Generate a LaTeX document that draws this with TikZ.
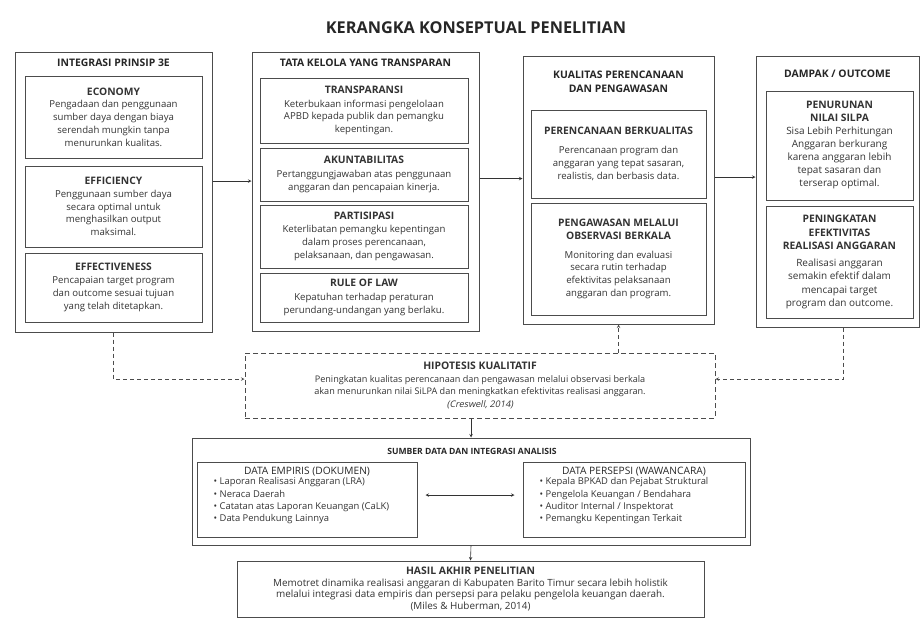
\documentclass[tikz,border=0pt]{standalone}
\usepackage{fontspec}
\setmainfont{Open Sans}
\newfontfamily\miringfont{Open Sans}[FakeSlant=0.2]
\usetikzlibrary{positioning}
\tikzstyle{outer} = [rectangle, draw=black!70, line width=1pt]
\tikzstyle{inbox} = [rectangle, draw=black!70, line width=1pt, align=center, text=black!80, font=\fontsize{9.6}{12.8}\selectfont]
\tikzstyle{head} = [align=center, text=black!85, font=\fontsize{10.4}{14}\selectfont\bfseries]
\tikzstyle{listtext} = [align=left, inner sep=0pt, text=black!80, font=\fontsize{9.4}{12.3}\selectfont]
\tikzstyle{arrow} = [semithick,->,>=stealth, draw=black!80]
\tikzstyle{dasharrow} = [semithick,->,>=stealth, draw=black!70, dash pattern=on 4pt off 3pt]
\newcommand{\judul}[1]{{\fontsize{10.3}{13}\selectfont\bfseries #1}}

\begin{document}
\begin{tikzpicture}[x=1pt,y=-1pt]
\useasboundingbox (0,0) rectangle (922,619);

\node (title) [text=black!85, font=\fontsize{16.3}{19}\selectfont\bfseries] at (476,28) {KERANGKA KONSEPTUAL PENELITIAN};

% kolom 1: integrasi prinsip 3E
\node (col1) [outer, minimum width=197, minimum height=280] at (113.5,192) {};
\node (col1title) [head] at (113.5,63) {INTEGRASI PRINSIP 3E};
\node (economy) [inbox, minimum width=177, minimum height=82] at (113.5,117) {\judul{ECONOMY}\\Pengadaan dan penggunaan\\sumber daya dengan biaya\\serendah mungkin tanpa\\menurunkan kualitas.};
\node (efficiency) [inbox, minimum width=177, minimum height=81] at (113.5,206.5) {\judul{EFFICIENCY}\\Penggunaan sumber daya\\secara optimal untuk\\menghasilkan output\\maksimal.};
\node (effectiveness) [inbox, minimum width=177, minimum height=69] at (113.5,287.5) {\judul{EFFECTIVENESS}\\Pencapaian target program\\dan outcome sesuai tujuan\\yang telah ditetapkan.};

% kolom 2: tata kelola
\node (col2) [outer, minimum width=227, minimum height=279] at (365.5,191.5) {};
\node (col2title) [head] at (365.5,63) {TATA KELOLA YANG TRANSPARAN};
\node (transparansi) [inbox, minimum width=208, minimum height=65] at (364,110.5) {\judul{TRANSPARANSI}\\[1pt]Keterbukaan informasi pengelolaan\\APBD kepada publik dan pemangku\\kepentingan.};
\node (akuntabilitas) [inbox, minimum width=208, minimum height=53] at (364,174.5) {\judul{AKUNTABILITAS}\\[1pt]Pertanggungjawaban atas penggunaan\\anggaran dan pencapaian kinerja.};
\node (partisipasi) [inbox, minimum width=208, minimum height=63] at (364,236.5) {\judul{PARTISIPASI}\\Keterlibatan pemangku kepentingan\\dalam proses perencanaan,\\pelaksanaan, dan pengawasan.};
\node (rulelaw) [inbox, minimum width=208, minimum height=49] at (364,297.5) {\judul{RULE OF LAW}\\[1pt]Kepatuhan terhadap peraturan\\perundang-undangan yang berlaku.};

% kolom 3: kualitas perencanaan
\node (col3) [outer, minimum width=191, minimum height=268] at (618.5,190) {};
\node (col3title) [head] at (618.5,82) {KUALITAS PERENCANAAN\\DAN PENGAWASAN};
\node (perencanaan) [inbox, minimum width=175, minimum height=88] at (618.5,154) {\judul{PERENCANAAN BERKUALITAS}\\[6pt]Perencanaan program dan\\anggaran yang tepat sasaran,\\realistis, dan berbasis data.};
\node (pengawasan) [inbox, minimum width=175, minimum height=112] at (618.5,259) {\judul{PENGAWASAN MELALUI}\\\judul{OBSERVASI BERKALA}\\[6pt]Monitoring dan evaluasi\\secara rutin terhadap\\efektivitas pelaksanaan\\anggaran dan program.};

% kolom 4: dampak
\node (col4) [outer, minimum width=163, minimum height=271] at (837.5,191.5) {};
\node (col4title) [head] at (837.5,74) {DAMPAK / OUTCOME};
\node (penurunan) [inbox, minimum width=147, minimum height=109, font=\fontsize{10}{13}\selectfont] at (839.5,145.5) {\judul{PENURUNAN}\\\judul{NILAI SILPA}\\Sisa Lebih Perhitungan\\Anggaran berkurang\\karena anggaran lebih\\tepat sasaran dan\\terserap optimal.};
\node (peningkatan) [inbox, minimum width=147, minimum height=112, font=\fontsize{10}{13.5}\selectfont] at (839.5,262) {\judul{PENINGKATAN}\\\judul{EFEKTIVITAS}\\\judul{REALISASI ANGGARAN}\\[3pt]Realisasi anggaran\\semakin efektif dalam\\mencapai target\\program dan outcome.};

\draw [arrow] ([yshift=11pt]col1.east) -- ([yshift=11pt]col1.east -| col2.west);
\draw [arrow] ([yshift=13pt]col2.east) -- ([yshift=13pt]col2.east -| col3.west);
\draw [arrow] ([yshift=13pt]col3.east) -- ([yshift=13pt]col3.east -| col4.west);

% hipotesis
\node (hipotesis) [rectangle, draw=black!70, line width=1pt, dash pattern=on 5pt off 3pt, minimum width=470, minimum height=65, align=center, text=black!80, font=\fontsize{9.1}{12.5}\selectfont] at (480,385.5) {{\fontsize{10.4}{13}\selectfont\bfseries HIPOTESIS KUALITATIF}\\Peningkatan kualitas perencanaan dan pengawasan melalui observasi berkala\\akan menurunkan nilai SiLPA dan meningkatkan efektivitas realisasi anggaran.\\{\miringfont (Creswell, 2014)}};

\draw [dasharrow] (col1.south) |- ([yshift=6.5pt]hipotesis.west);
\draw [dasharrow] ([xshift=5.5pt]col4.south) |- ([yshift=6.5pt]hipotesis.east);
\draw [dasharrow] (hipotesis.north -| col3.south) -- (col3.south);

% sumber data
\node (sumber) [outer, minimum width=558, minimum height=107] at (471,491.5) {};
\node (sumbertitle) [text=black!85, font=\fontsize{8.6}{12}\selectfont\bfseries] at (472,451) {SUMBER DATA DAN INTEGRASI ANALISIS};
\draw [arrow] (sumber.north |- hipotesis.south) -- (sumber.north);

\node (empiris) [outer, minimum width=220, minimum height=75] at (307,499.5) {};
\node (empirisjudul) [below=2pt of empiris.north, text=black!85, font=\fontsize{10.2}{12}\selectfont] {DATA EMPIRIS (DOKUMEN)};
\node (empirislist) [listtext, below right=16pt and 17pt of empiris.north west] {\textbullet{} Laporan Realisasi Anggaran (LRA)\\\textbullet{} Neraca Daerah\\\textbullet{} Catatan atas Laporan Keuangan (CaLK)\\\textbullet{} Data Pendukung Lainnya};

\node (persepsi) [outer, minimum width=222, minimum height=75] at (634,499.5) {};
\node (persepsijudul) [below=2pt of persepsi.north, text=black!85, font=\fontsize{10.2}{12}\selectfont] {DATA PERSEPSI (WAWANCARA)};
\node (persepsilist) [listtext, below right=16pt and 17pt of persepsi.north west] {\textbullet{} Kepala BPKAD dan Pejabat Struktural\\\textbullet{} Pengelola Keuangan / Bendahara\\\textbullet{} Auditor Internal / Inspektorat\\\textbullet{} Pemangku Kepentingan Terkait};

\draw [semithick,<->,>=stealth, draw=black!80, shorten >=8pt, shorten <=8pt] ([yshift=4.5pt]empiris.east) -- ([yshift=4.5pt]persepsi.west);

% hasil akhir
\node (hasil) [inbox, minimum width=467, minimum height=56, font=\fontsize{9.9}{11.8}\selectfont] at (470.5,589) {{\fontsize{10.4}{12}\selectfont\bfseries HASIL AKHIR PENELITIAN}\\Memotret dinamika realisasi anggaran di Kabupaten Barito Timur secara lebih holistik\\melalui integrasi data empiris dan persepsi para pelaku pengelola keuangan daerah.\\(Miles \& Huberman, 2014)};
\draw [arrow] (sumber.south) -- (hasil.north);

\end{tikzpicture}
\end{document}
